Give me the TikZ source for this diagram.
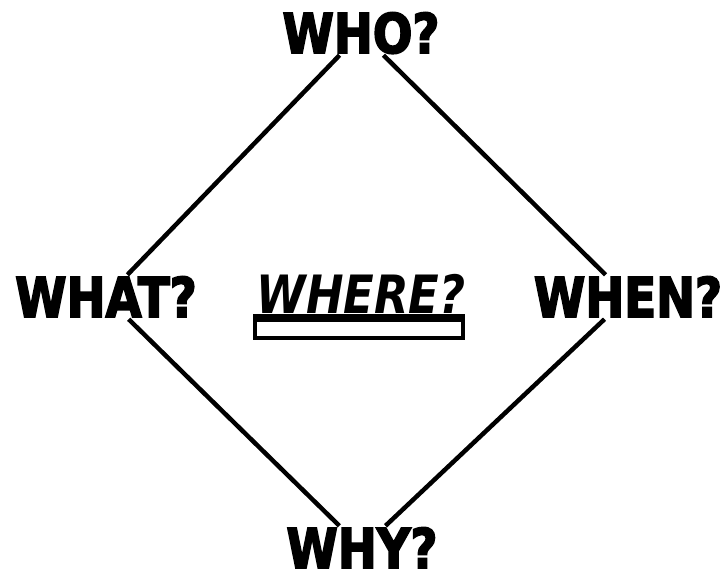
\documentclass[tikz,border=0pt]{standalone}
\usepackage{fontspec}
\setmainfont{DejaVu Sans}
\newfontfamily\comicfont{DejaVu Sans}[FakeStretch=0.85, BoldFeatures={FakeBold=3}]
\usetikzlibrary{positioning}
\tikzset{qword/.style={font=\comicfont\bfseries\fontsize{55}{55}\selectfont,
    inner sep=2bp, text height=40bp, text depth=0bp, anchor=base},
    link/.style={draw, line width=4.5bp}}

\begin{document}
\begin{tikzpicture}[x=1bp, y=-1bp]
    \useasboundingbox (0,0) rectangle (722,577);

    % Question words
    \node[qword] (who)   at (361,53)  {WHO?};
    \node[qword] (what)  at (106,317) {WHAT?};
    \node[qword, font=\comicfont\bfseries\itshape\fontsize{53}{53}\selectfont]
                 (where) at (361,313) {WHERE?};
    \node[qword] (when)  at (628,317) {WHEN?};
    \node[qword] (why)   at (362,568) {WHY?};

    % Underline and empty box under WHERE?
    \draw[line width=4bp] (255,320) rectangle (463,338);
    \fill (253,314) rectangle (465,321);

    % Diamond
    \draw[link] (who)  -- (what);
    \draw[link] (who)  -- (when);
    \draw[link] (what) -- (why);
    \draw[link] (when) -- (why);
\end{tikzpicture}
\end{document}
